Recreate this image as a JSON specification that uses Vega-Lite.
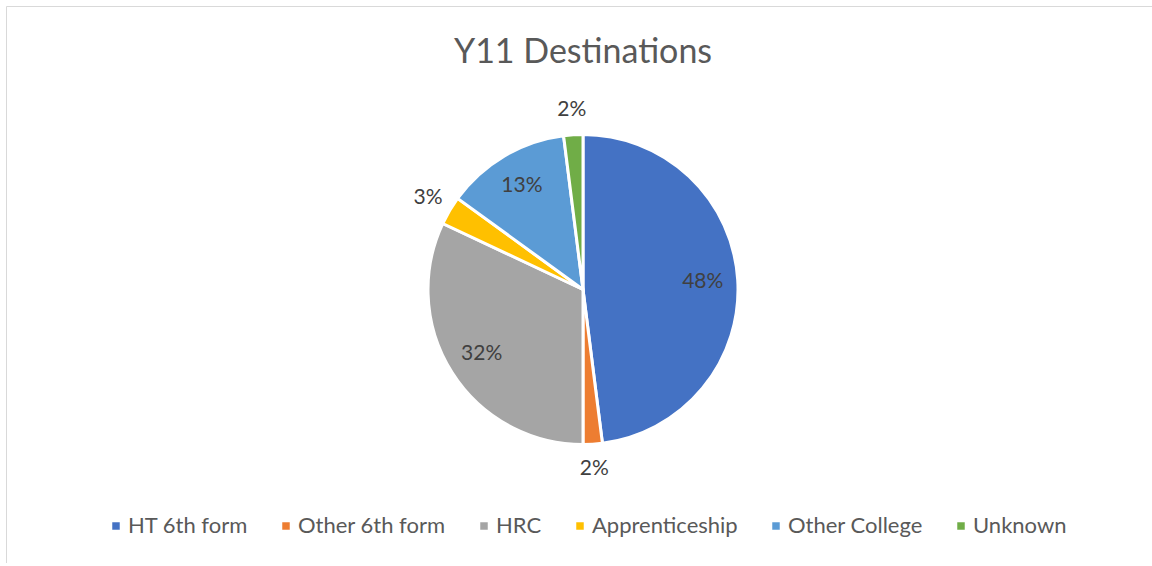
{
  "$schema": "https://vega.github.io/schema/vega-lite/v6.json",
  "width": 1154,
  "height": 557,
  "autosize": "none",
  "padding": {"left": 6, "top": 6, "right": 0, "bottom": 0},
  "background": "white",
  "view": {"stroke": "#d9d9d9", "strokeWidth": 1, "fill": "white"},
  "config": {"view": {"stroke": "#d9d9d9", "strokeWidth": 1}, "font": "Lato"},
  "title": {"text": "Y11 Destinations", "fontSize": 34, "font": "Lato", "fontWeight": "normal", "color": "#595959", "anchor": "middle", "frame": "group", "offset": -64},
  "data": {"values": [
    {"category": "HT 6th form", "pct": 0.48, "order": 1},
    {"category": "Other 6th form", "pct": 0.02, "order": 2},
    {"category": "HRC", "pct": 0.32, "order": 3},
    {"category": "Apprenticeship", "pct": 0.03, "order": 4},
    {"category": "Other College", "pct": 0.13, "order": 5},
    {"category": "Unknown", "pct": 0.02, "order": 6}
  ]},
  "encoding": {
    "theta": {"field": "pct", "type": "quantitative", "stack": true},
    "order": {"field": "order", "type": "quantitative"}
  },
  "layer": [
    {
      "mark": {"type": "arc", "outerRadius": 155, "stroke": "white", "strokeWidth": 3, "yOffset": 5},
      "encoding": {
        "color": {
          "field": "category", "type": "nominal",
          "scale": {
            "domain": ["HT 6th form", "Other 6th form", "HRC", "Apprenticeship", "Other College", "Unknown"],
            "range": ["#4472C4", "#ED7D31", "#A5A5A5", "#FFC000", "#5B9BD5", "#70AD47"]
          },
          "legend": {
            "orient": "none", "legendX": 99, "legendY": 509, "direction": "horizontal", "columns": 6,
            "title": null, "symbolType": "square", "symbolSize": 56, "symbolStrokeWidth": 0,
            "labelFontSize": 22, "labelColor": "#595959", "labelFont": "Lato",
            "columnPadding": 27, "labelOffset": 1, "padding": 0
          }
        }
      }
    },
    {
      "mark": {"type": "text", "radius": 120, "fontSize": 21, "color": "#404040", "yOffset": 5},
      "encoding": {
        "text": {"condition": {"test": "datum.pct >= 0.05", "field": "pct", "type": "quantitative", "format": ".0%"}, "value": ""}
      }
    },
    {
      "mark": {"type": "text", "radius": 180, "fontSize": 21, "color": "#404040", "yOffset": 5},
      "encoding": {
        "text": {"condition": {"test": "datum.pct < 0.05", "field": "pct", "type": "quantitative", "format": ".0%"}, "value": ""}
      }
    }
  ]
}
